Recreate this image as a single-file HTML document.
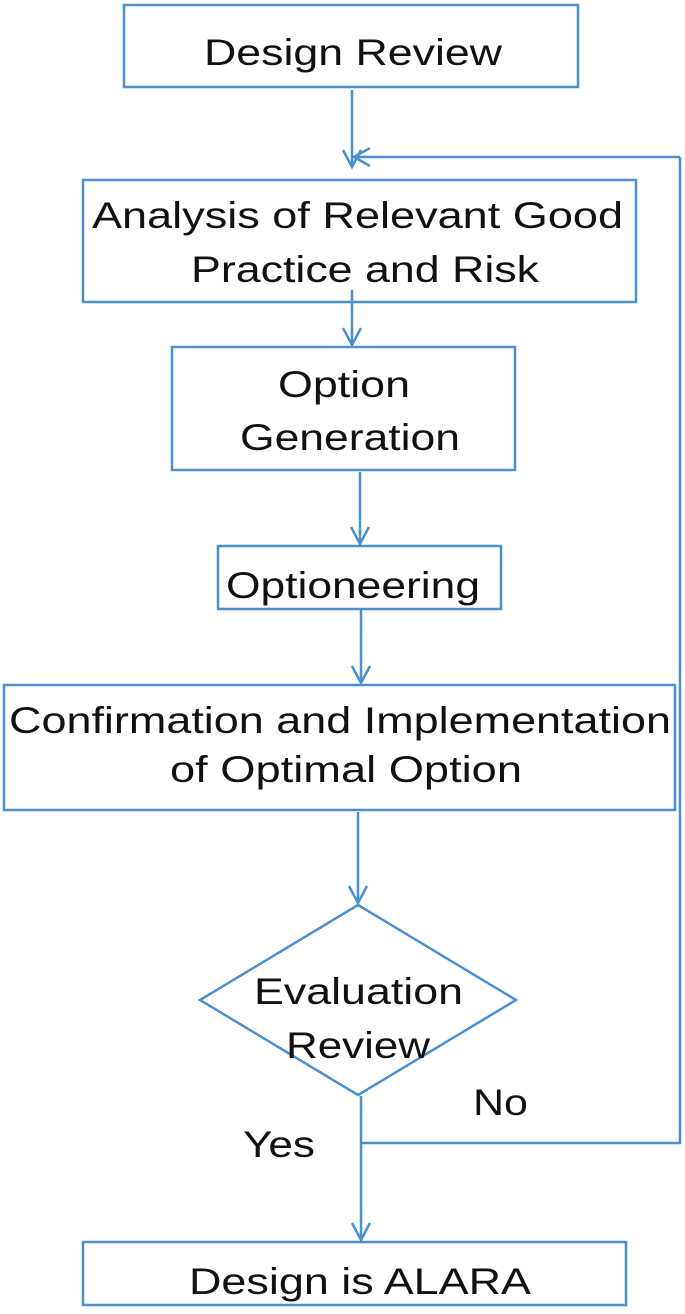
<!DOCTYPE html>
<html><head><meta charset="utf-8"><style>
body{margin:0;background:#fff}
svg text{font-family:"Liberation Sans",Arial,sans-serif;fill:#111;font-size:37px}
</style></head><body>
<svg width="685" height="1309" viewBox="0 0 685 1309" xmlns="http://www.w3.org/2000/svg">
<g fill="none" stroke="#4a8fd0" stroke-width="2.5">
<rect x="124" y="5" width="454" height="82"/>
<rect x="83" y="180" width="553" height="122"/>
<rect x="172" y="347" width="343" height="123"/>
<rect x="218" y="546" width="283" height="63"/>
<rect x="4" y="685" width="671" height="125"/>
<polygon points="358,905 516,1000 358,1095 200,1000"/>
<rect x="83" y="1242" width="543" height="63"/>
<line x1="352" y1="90" x2="352" y2="167"/>
<polyline points="343,150 352,167 361,150"/>
<polyline points="680,157 680,1143 361,1143"/>
<line x1="680" y1="157" x2="354" y2="157"/>
<polyline points="370,148 354,157 370,166"/>
<line x1="352" y1="290" x2="352" y2="345"/>
<polyline points="343,328 352,345 361,328"/>
<line x1="360" y1="472" x2="360" y2="544"/>
<polyline points="351,527 360,544 369,527"/>
<line x1="361" y1="610" x2="361" y2="683"/>
<polyline points="352,666 361,683 370,666"/>
<line x1="358" y1="812" x2="358" y2="903"/>
<polyline points="349,886 358,903 367,886"/>
<line x1="361" y1="1096" x2="361" y2="1240"/>
<polyline points="352,1223 361,1240 370,1223"/>
</g>
<g lengthAdjust="spacingAndGlyphs">
<text x="204" y="65" textLength="298" lengthAdjust="spacingAndGlyphs">Design Review</text>
<text x="92" y="228" textLength="531" lengthAdjust="spacingAndGlyphs">Analysis of Relevant Good</text>
<text x="191" y="282" textLength="348" lengthAdjust="spacingAndGlyphs">Practice and Risk</text>
<text x="278" y="397" textLength="132" lengthAdjust="spacingAndGlyphs">Option</text>
<text x="240" y="450" textLength="220" lengthAdjust="spacingAndGlyphs">Generation</text>
<text x="226" y="598" textLength="254" lengthAdjust="spacingAndGlyphs">Optioneering</text>
<text x="9" y="733" textLength="662" lengthAdjust="spacingAndGlyphs">Confirmation and Implementation</text>
<text x="170" y="782" textLength="352" lengthAdjust="spacingAndGlyphs">of Optimal Option</text>
<text x="254" y="1004" textLength="209" lengthAdjust="spacingAndGlyphs">Evaluation</text>
<text x="286" y="1058" textLength="144" lengthAdjust="spacingAndGlyphs">Review</text>
<text x="473" y="1115" textLength="55" lengthAdjust="spacingAndGlyphs">No</text>
<text x="243" y="1157" textLength="72" lengthAdjust="spacingAndGlyphs">Yes</text>
<text x="189" y="1294" textLength="342" lengthAdjust="spacingAndGlyphs">Design is ALARA</text>
</g>
</svg>
</body></html>
